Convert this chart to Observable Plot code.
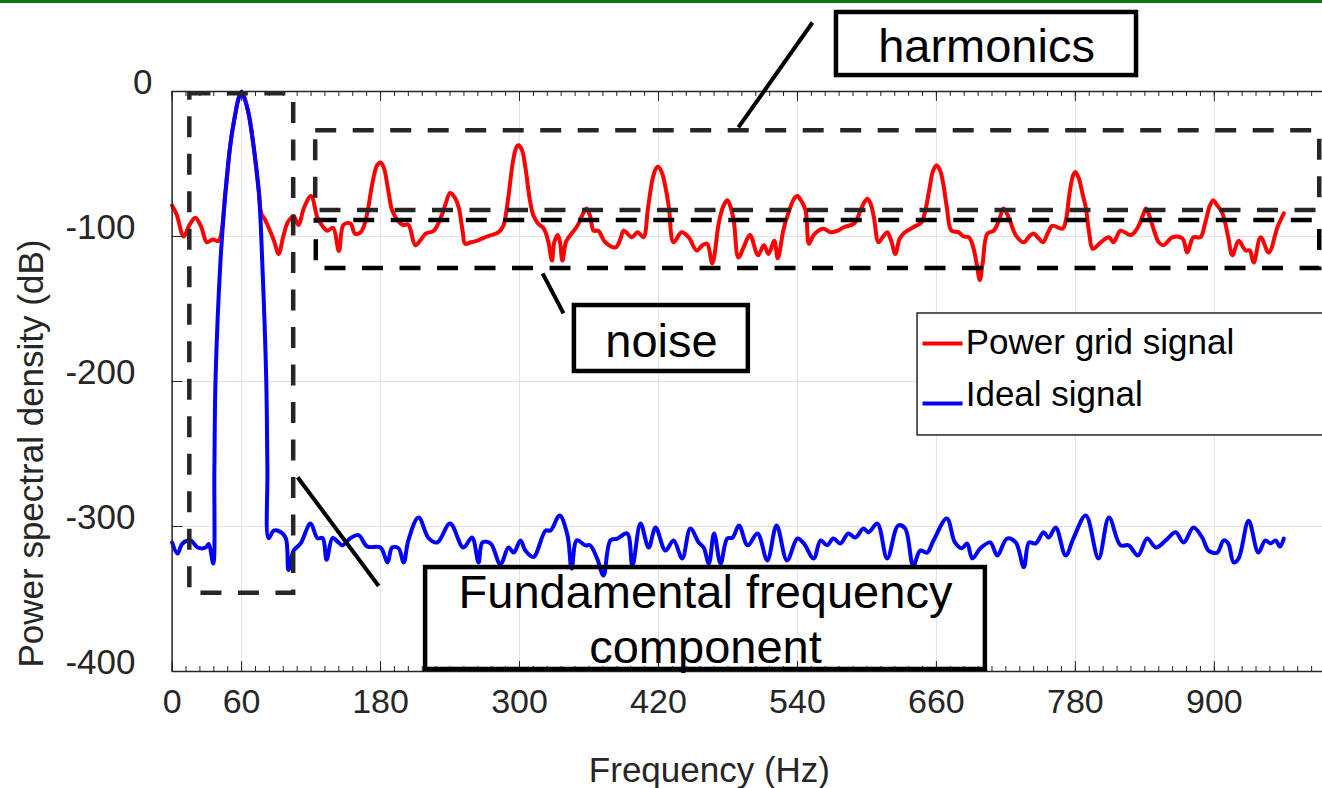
<!DOCTYPE html>
<html>
<head>
<meta charset="utf-8">
<script src="https://cdn.jsdelivr.net/npm/d3@7"></script>
<script src="https://cdn.jsdelivr.net/npm/@observablehq/plot@0.6"></script>
<style>
  html, body { margin: 0; padding: 0; background: #fff; overflow: hidden; }
  #topline { position: absolute; left: 0; top: 0; width: 1322px; height: 3px; background: #0a7a0a; }
  #chart { position: absolute; left: 0; top: 0; }
</style>
</head>
<body>
<div id="topline"></div>
<div id="chart"></div>
<script>
// ---- tick labels ----
const freqTicks = [0, 60, 180, 300, 420, 540, 660, 780, 900];
const dbTicks = [0, -100, -200, -300, -400];
const seriesNames = ["Power grid signal", "Ideal signal"];

// ---- Power grid signal (red) ----
const powerFreq = [0,4,10,15,20,25,30,35,40,46,50.4,54.7,59,61,66,70.5,75,77,80,84,88,92,96,100,105,109,114,120,125.5,130,134,139,144,148,154,158,163,166,169,173,177,180,183,187,190,195,199,204,210,215,219,226,232,236,240,244,247.5,251,253,258,263,272,282,286,290,294,297,299,302,305,309,312,316,321,325,328,330,333,335,337,340,342.5,350,355,358,361,364,368,374,383,387,390,397,402,407,411,415,418,420,423,426,429,433,440,446,453,458,462,466.5,472,476,479.5,482,485,489,493.5,499,506,511,515,520,523,528,531.5,537,540,543,547,550,554,562,568.5,575,580,589,594.5,598,600.5,603,606,610,614,617.5,621,624.5,628,631.5,635,640,646,648,651,654,657,660,663,666,669,673,679,683.5,688,692,695,697.5,700,704,709.5,714,718,723,728.5,735.5,740,744,748,752,756,760,769,772,775,778,780,783,786,789,792,795,802,809,813,819,828,834,838,841,844,848,852,856,864,872.5,876.5,882,888,892,896,899,902,907,912,915.5,921,927,930.5,934,940,947,954.5,960];
const powerDb = [-78.6,-85,-100,-92,-87,-93,-104,-102,-103,-70,-36,-15,-1.4,-1.4,-15,-38.6,-70,-84,-88,-95,-103,-112,-100,-90,-86,-92,-80,-72,-87,-93,-96,-94,-110,-92,-91,-98,-97,-92,-82,-63,-51,-49,-53,-70,-82,-89,-92,-92,-106,-102,-98,-96,-87,-78,-70,-73,-80,-97,-105,-104,-103,-100,-97,-92.6,-75,-50,-39,-37,-40,-52,-75,-85.5,-91,-94.6,-104,-116.6,-104,-99,-104,-116.6,-104,-100.5,-92.6,-84,-80.7,-86,-96,-96,-104,-107.5,-102,-96,-100.5,-97,-100.5,-80,-60,-53,-52,-56,-66,-80,-104,-97,-100.5,-109.6,-106,-105,-118.6,-91,-79,-75,-79,-89,-114.5,-107.5,-99,-113,-106,-112,-103,-115,-95,-85.5,-74,-72,-75,-82,-105,-99,-94.6,-97,-96,-93.6,-91,-82,-76,-74,-77,-86.6,-104,-100,-97,-103,-112,-102,-98,-96,-93.6,-91,-89,-80,-67,-55,-51,-54,-64,-80,-96,-97,-100,-100.5,-108,-120,-130,-118,-98,-96,-89,-80.7,-88,-99,-104,-100,-98,-101,-104,-98,-92.6,-94.6,-88,-70,-58,-55.6,-60,-70,-80,-98,-108.5,-104,-100.5,-104,-96,-99,-93.6,-86,-80.7,-86,-96,-104,-106,-100.5,-101.4,-111,-100.5,-100.5,-91,-79,-75,-78,-84,-100.5,-113,-103,-109.6,-109.6,-118,-100.5,-111,-93.6,-84];

// ---- Ideal signal (blue) ----
const idealFreq = [0,4.6,9,16,22,29,31.6,35.5,36.5,37.5,41.8,46,50.4,54.7,57,60,63,66,70.5,75,77.8,81.3,82.3,83.3,87.6,91.8,98,100.5,105,111,119.5,125.5,130,133.4,138.5,143.7,147,154,161,168.5,180,186,190,195.5,200,204,212.8,221.5,229,240,251.5,259,264.6,268,275,283.5,290.5,295,300.8,305,312,322.5,326.8,334.6,341.4,345,349.5,357,361,367,372.5,378.5,384.5,393,397.5,404.5,411.5,417.5,426,433,440.5,447.5,454.7,459,463.5,468,473.6,479.4,484,489.5,497,505.5,514,522,531,540,545.5,554,560,565.5,571,577,584,590,597,601.5,609,617.5,627,633,640,646,652,657.5,669,676,682,686.5,691,698,706.5,712.5,721,728.5,735.5,740,745.7,752.6,757,763,771.6,778.6,789,800,809,819,826,834,842,849.5,858,866.6,873.5,882,889.5,895,902.5,908,912,916.7,921,929.6,938,944,948.5,953,956.6,960];
const idealDb = [-311,-318.6,-311.7,-309.6,-314.5,-314.5,-312,-325.5,-260,-199,-116.6,-70,-36,-15,-6,0,-6,-15,-38.6,-70,-116.6,-199,-260,-308,-303,-303,-307.6,-330,-316.6,-311.7,-298,-308,-308,-323,-308,-311,-313,-308,-306,-313.8,-314.5,-324.8,-314.5,-315,-324.8,-309.6,-293.8,-308,-311,-298,-314.5,-307.6,-324.8,-311,-311.7,-326,-314.5,-318,-309.6,-316.6,-321,-302.8,-302.8,-292.4,-306,-329,-309.6,-313,-313,-322,-333.8,-309.6,-308.3,-304.8,-327,-298,-314.5,-300.7,-316.6,-309.6,-322,-301.4,-311,-314.5,-325.5,-304.8,-325.5,-308.3,-307.6,-299.3,-313,-304.8,-323.4,-299.3,-323.4,-308.3,-311.7,-322,-309.6,-313,-308.3,-311.7,-304.8,-307.6,-301.4,-304,-298,-322,-299.3,-301.4,-327,-316.6,-318,-309.6,-294.5,-311,-315,-311.7,-322,-315,-311,-320,-308.3,-311,-328,-311,-311.7,-304,-307.6,-300.7,-320,-307.6,-292.4,-322,-293.8,-313,-313,-320,-308.3,-314.5,-309.6,-304,-311,-300.7,-307.6,-316.6,-318,-309.6,-311.7,-324.8,-322,-296,-318,-309.6,-311.7,-309.6,-313.8,-308.3];

// ---- annotations (data units) ----
const dashedBoxes = [
  {x1: 15.3, x2: 105, y1: -346, y2: -1.6, stroke: "#262626"},   // fundamental region
  {x1: 124, x2: 991, y1: -82, y2: -27, stroke: "#262626"},      // harmonics region
  {x1: 124.5, x2: 991, y1: -122, y2: -89, stroke: "#000000"}    // noise region
];
const pointers = [
  {x1: 489, y1: -24.8, x2: 553, y2: 47.6},
  {x1: 320, y1: -125.5, x2: 338, y2: -153},
  {x1: 108.4, y1: -266, x2: 178.4, y2: -341}
];
const labelBoxes = [
  {x1: 573.7, x2: 832.8, y1: 11, y2: 54.5},
  {x1: 347.4, x2: 497.6, y1: -193.1, y2: -147.6},
  {x1: 218.9, x2: 702.3, y1: -398.6, y2: -328.3}
];
const labelTexts = [
  {x: 703.3, y: 31, text: "harmonics"},
  {x: 422.6, y: -173, text: "noise"},
  {x: 460.6, y: -345.5, text: "Fundamental frequency"},
  {x: 460.6, y: -384.1, text: "component"}
];

const power = powerFreq.map((f, i) => ({f, db: powerDb[i]}));
const ideal = idealFreq.map((f, i) => ({f, db: idealDb[i]}));

const FONT = "'Liberation Sans', Arial, Helvetica, sans-serif";
const AX = "#262626";
const minorTicks = d3.range(0, 1000, 12);
const gridTicks = freqTicks.filter(t => t > 0);
const frameH = 671 - 91;
const frameW = 1322 - 171.6;

const legendItems = [
  {name: seriesNames[0], color: "#ff0000", ly: -173.8, ty: -173.1},
  {name: seriesNames[1], color: "#0000ff", ly: -215.2, ty: -209}
];

const chart = Plot.plot({
  width: 1322,
  height: 788,
  marginLeft: 171.6,
  marginRight: 0,
  marginTop: 91,
  marginBottom: 117,
  x: {domain: [0, 993.4], axis: null},
  y: {domain: [-400, 0], axis: null},
  style: {fontFamily: FONT, background: "transparent", overflow: "visible"},
  marks: [
    // grid
    Plot.ruleX(gridTicks, {stroke: "#e3e3e3", strokeWidth: 1}),
    Plot.ruleY([-100, -200, -300], {stroke: "#e3e3e3", strokeWidth: 1}),
    // series
    Plot.line(power, {x: "f", y: "db", stroke: "#ff0000", strokeWidth: 4, curve: "catmull-rom"}),
    Plot.line(ideal, {x: "f", y: "db", stroke: "#0000ff", strokeWidth: 4, curve: "catmull-rom"}),
    // axes box (left, bottom, top)
    Plot.ruleX([0], {stroke: AX, strokeWidth: 1.5}),
    Plot.ruleY([-400], {stroke: AX, strokeWidth: 1.5}),
    Plot.ruleY([0], {stroke: AX, strokeWidth: 1.5}),
    // inward ticks
    Plot.ruleX(minorTicks, {stroke: AX, strokeWidth: 1, insetTop: frameH - 5}),
    Plot.ruleX(freqTicks, {stroke: AX, strokeWidth: 1, insetTop: frameH - 10}),
    Plot.ruleX(minorTicks, {stroke: AX, strokeWidth: 1, insetBottom: frameH - 5}),
    Plot.ruleX(freqTicks, {stroke: AX, strokeWidth: 1, insetBottom: frameH - 10}),
    Plot.ruleY(dbTicks, {stroke: AX, strokeWidth: 1, insetRight: frameW - 11}),
    // tick labels
    Plot.text(freqTicks, {x: d => d, y: -421.4, text: d => String(d), fontSize: 34, fill: AX, textAnchor: "middle"}),
    Plot.text(dbTicks.filter(d => d !== 0), {x: 0, y: d => d, text: d => String(d), fontSize: 35, fill: AX, textAnchor: "end", dx: -36.6, dy: -9}),
    Plot.text([0], {x: 0, y: d => d, text: d => String(d), fontSize: 35, fill: AX, textAnchor: "end", dx: -19.6, dy: -9}),
    // axis titles
    Plot.text(["Frequency (Hz)"], {x: 464, y: -468.3, text: d => d, fontSize: 35, fill: AX, textAnchor: "middle"}),
    Plot.text(["Power spectral density (dB)"], {x: -121.4, y: -249.7, text: d => d, fontSize: 35, fill: AX, textAnchor: "middle", rotate: -90}),
    // annotation dashed boxes
    Plot.rect(dashedBoxes, {x1: "x1", x2: "x2", y1: "y1", y2: "y2", fill: "none", stroke: "stroke", strokeWidth: 4.5, strokeDasharray: "21,16.5"}),
    // pointer lines
    Plot.link(pointers, {x1: "x1", y1: "y1", x2: "x2", y2: "y2", stroke: "#000", strokeWidth: 4}),
    // label boxes
    Plot.rect(labelBoxes, {x1: "x1", x2: "x2", y1: "y1", y2: "y2", fill: "none", stroke: "#000", strokeWidth: 4.5}),
    Plot.text(labelTexts, {x: "x", y: "y", text: "text", fontSize: 47, fill: "#000", textAnchor: "middle"}),
    // legend
    Plot.rect([0], {x1: 643.7, x2: 1010, y1: -237.2, y2: -153.1, fill: "#fff", stroke: AX, strokeWidth: 1.5}),
    Plot.link(legendItems, {x1: 648, x2: 682.6, y1: "ly", y2: "ly", stroke: "color", strokeWidth: 4}),
    Plot.text(legendItems, {x: 685.3, y: "ty", text: "name", fontSize: 35, fill: "#000", textAnchor: "start"})
  ]
});
document.getElementById("chart").appendChild(chart);
</script>
</body>
</html>
